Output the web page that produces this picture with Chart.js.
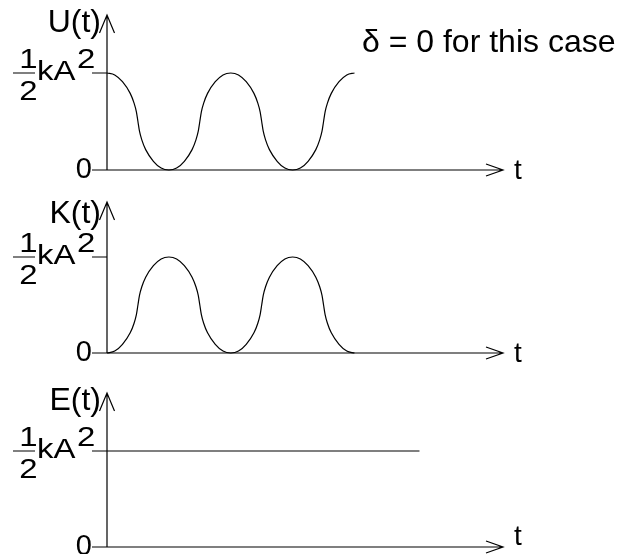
<!DOCTYPE html>
<html>
<head>
<meta charset="utf-8">
<script src="https://cdn.jsdelivr.net/npm/chart.js@4"></script>
<style>
  body { margin: 0; background: #fff; }
  #wrap { position: relative; width: 629px; height: 554px; }
  #wrap canvas { position: absolute; left: 0; top: 0; }
</style>
</head>
<body>
<div id="wrap">
  <canvas id="chartU" width="629" height="554"></canvas>
  <canvas id="chartK" width="629" height="554"></canvas>
  <canvas id="chartE" width="629" height="554"></canvas>
</div>
<script>
// time in quarter periods of U (U peaks at 0, 4, 8)
const tCurve = [0, 0.25, 0.5, 0.75, 0.875, 0.95, 1, 1.05, 1.125, 1.25, 1.5, 1.75, 2,
  2.25, 2.5, 2.75, 2.875, 2.95, 3, 3.05, 3.125, 3.25, 3.5, 3.75, 4,
  4.25, 4.5, 4.75, 4.875, 4.95, 5, 5.05, 5.125, 5.25, 5.5, 5.75, 6,
  6.25, 6.5, 6.75, 6.875, 6.95, 7, 7.05, 7.125, 7.25, 7.5, 7.75, 8];
// energies in units of kA^2/2
const uValues = [1, .98, .91, .79, .69, .6, .5, .4, .31, .21, .09, .02, 0,
  .02, .09, .21, .31, .4, .5, .6, .69, .79, .91, .98, 1,
  .98, .91, .79, .69, .6, .5, .4, .31, .21, .09, .02, 0,
  .02, .09, .21, .31, .4, .5, .6, .69, .79, .91, .98, 1];
const kValues = [0, .02, .09, .21, .31, .4, .5, .6, .69, .79, .91, .98, 1,
  .98, .91, .79, .69, .6, .5, .4, .31, .21, .09, .02, 0,
  .02, .09, .21, .31, .4, .5, .6, .69, .79, .91, .98, 1,
  .98, .91, .79, .69, .6, .5, .4, .31, .21, .09, .02, 0];
const tFlat = [0, 10.1];
const eValues = [1, 1];
const tMax = 12.8;

const panelTitles = ["U(t)", "K(t)", "E(t)"];
const zeroLabel = "0";
const halfLabel = ["1", "2", "kA", "2"]; // 1/2 kA^2
const xTitle = "t";
const note = "\u03b4 = 0 for this case";

const FONT = '"Liberation Sans", Arial, sans-serif';

function toPoints(xs, ys) {
  return xs.map((x, i) => ({x: x, y: ys[i]}));
}

const energyAxes = {
  id: 'energyAxes',
  afterDraw(chart, args, opts) {
    const ctx = chart.ctx;
    const xs = chart.scales.x, ys = chart.scales.y;
    const x0 = xs.getPixelForValue(0);
    const xEnd = chart.chartArea.right;
    const zeroY = ys.getPixelForValue(0);
    const topY = ys.getPixelForValue(1);
    const apexY = opts.apexY;

    ctx.save();
    ctx.strokeStyle = '#000';
    ctx.lineWidth = 1.2;
    ctx.beginPath();
    // y axis with open arrow
    ctx.moveTo(x0, zeroY);
    ctx.lineTo(x0, apexY);
    ctx.moveTo(x0 - 7.5, apexY + 18);
    ctx.lineTo(x0, apexY);
    ctx.lineTo(x0 + 7.5, apexY + 18);
    // t axis with open arrow
    ctx.moveTo(92, zeroY);
    ctx.lineTo(xEnd, zeroY);
    ctx.moveTo(xEnd - 17, zeroY - 6);
    ctx.lineTo(xEnd, zeroY);
    ctx.lineTo(xEnd - 17, zeroY + 6);
    // tick at kA^2/2 and fraction bar
    ctx.moveTo(92, topY);
    ctx.lineTo(x0, topY);
    ctx.moveTo(13, topY);
    ctx.lineTo(35, topY);
    ctx.stroke();

    ctx.fillStyle = '#000';
    ctx.textBaseline = 'alphabetic';

    ctx.font = '32px ' + FONT;
    ctx.textAlign = 'right';
    ctx.fillText(opts.title, 101, opts.titleY);

    ctx.font = '29px ' + FONT;
    ctx.fillText(zeroLabel, 92, zeroY + 8);

    ctx.font = '28px ' + FONT;
    ctx.textAlign = 'left';
    ctx.fillText(xTitle, 514, Math.min(zeroY + 9, 545));

    // 1/2 kA^2, slightly widened like the original
    ctx.save();
    ctx.font = '27px ' + FONT;
    ctx.translate(0, topY);
    ctx.scale(1.22, 1);
    ctx.textAlign = 'center';
    ctx.fillText(halfLabel[0], 28.5 / 1.22, -5);
    ctx.fillText(halfLabel[1], 28.5 / 1.22, 27);
    ctx.textAlign = 'left';
    ctx.fillText(halfLabel[2], 37 / 1.22, 7);
    ctx.fillText(halfLabel[3], 77 / 1.22, -5);
    ctx.restore();

    if (opts.note) {
      ctx.font = '32px ' + FONT;
      ctx.textAlign = 'left';
      ctx.fillText(opts.note, 362, 52);
    }
    ctx.restore();
  }
};

function makePanel(canvasId, xs, values, title, topY, zeroY, apexY, titleY, withNote) {
  return new Chart(document.getElementById(canvasId), {
    type: 'line',
    data: {
      datasets: [{
        data: toPoints(xs, values),
        borderColor: '#000',
        borderWidth: 1.2,
        pointRadius: 0,
        fill: false,
        cubicInterpolationMode: 'monotone',
        clip: false
      }]
    },
    options: {
      responsive: false,
      animation: false,
      events: [],
      layout: {
        padding: {left: 107, right: 126, top: topY, bottom: 554 - zeroY}
      },
      scales: {
        x: {type: 'linear', min: 0, max: tMax, display: false},
        y: {type: 'linear', min: 0, max: 1, display: false}
      },
      plugins: {
        legend: {display: false},
        tooltip: {enabled: false},
        energyAxes: {title: title, apexY: apexY, titleY: titleY, note: withNote ? note : null}
      }
    },
    plugins: [energyAxes]
  });
}

makePanel('chartU', tCurve, uValues, panelTitles[0], 73, 170, 15, 32, true);
makePanel('chartK', tCurve, kValues, panelTitles[1], 257, 353, 202, 223, false);
makePanel('chartE', tFlat, eValues, panelTitles[2], 451, 547, 393, 410, false);
</script>
</body>
</html>
